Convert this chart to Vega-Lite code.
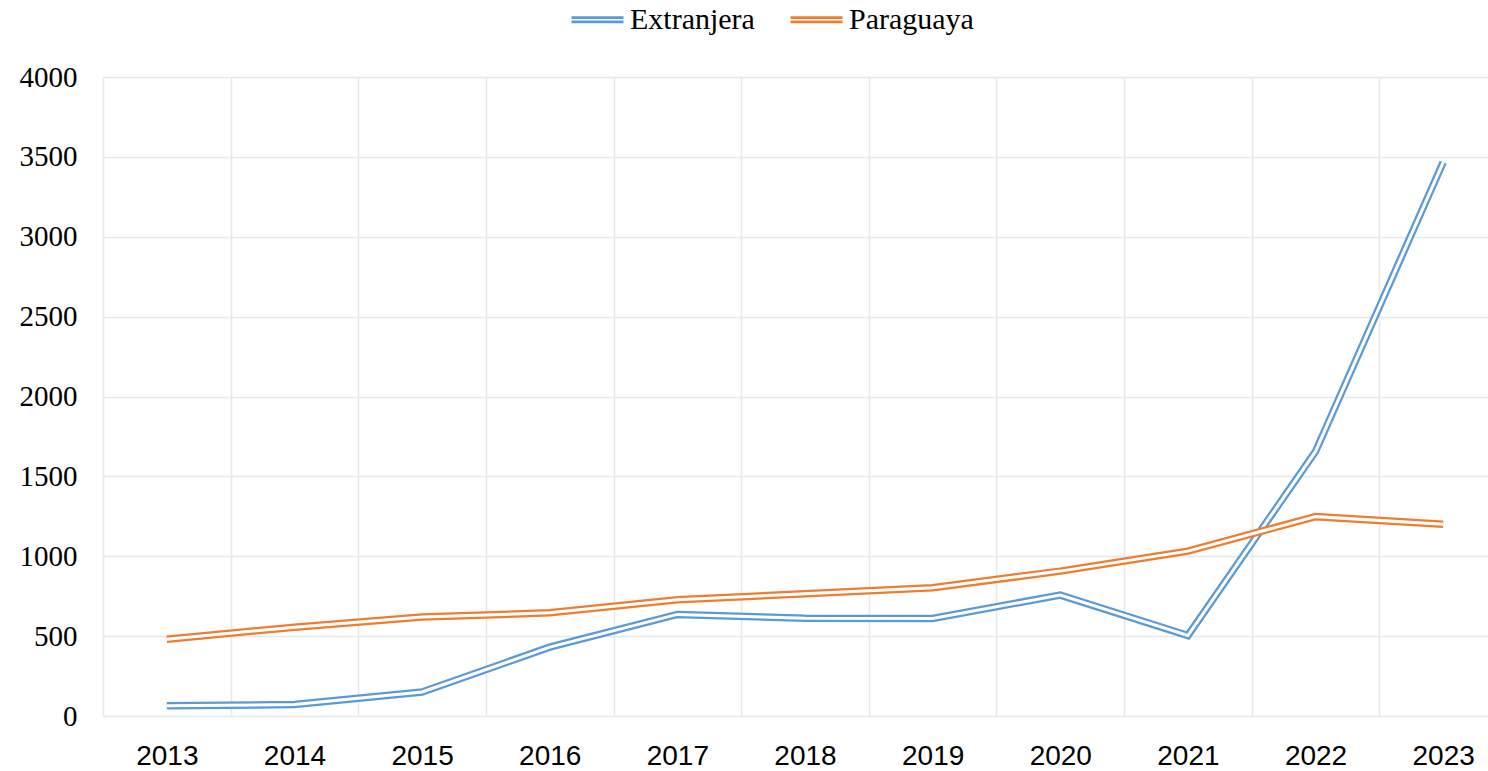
{
  "$schema": "https://vega.github.io/schema/vega-lite/v6.json",
  "width": 1385,
  "height": 639,
  "autosize": {"type": "none"},
  "padding": {"left": 103, "top": 77, "right": 0, "bottom": 55},
  "background": "white",
  "config": {"view": {"stroke": null}},
  "data": {
    "values": [
      {"year": "2013", "serie": "Extranjera", "value": 64},
      {"year": "2014", "serie": "Extranjera", "value": 72},
      {"year": "2015", "serie": "Extranjera", "value": 150},
      {"year": "2016", "serie": "Extranjera", "value": 431},
      {"year": "2017", "serie": "Extranjera", "value": 636},
      {"year": "2018", "serie": "Extranjera", "value": 612},
      {"year": "2019", "serie": "Extranjera", "value": 611},
      {"year": "2020", "serie": "Extranjera", "value": 757},
      {"year": "2021", "serie": "Extranjera", "value": 504},
      {"year": "2022", "serie": "Extranjera", "value": 1656},
      {"year": "2023", "serie": "Extranjera", "value": 3466},
      {"year": "2013", "serie": "Paraguaya", "value": 481},
      {"year": "2014", "serie": "Paraguaya", "value": 556},
      {"year": "2015", "serie": "Paraguaya", "value": 619},
      {"year": "2016", "serie": "Paraguaya", "value": 646},
      {"year": "2017", "serie": "Paraguaya", "value": 727},
      {"year": "2018", "serie": "Paraguaya", "value": 766},
      {"year": "2019", "serie": "Paraguaya", "value": 803},
      {"year": "2020", "serie": "Paraguaya", "value": 907},
      {"year": "2021", "serie": "Paraguaya", "value": 1032},
      {"year": "2022", "serie": "Paraguaya", "value": 1248},
      {"year": "2023", "serie": "Paraguaya", "value": 1201}
    ]
  },
  "encoding": {
    "x": {
      "field": "year",
      "type": "ordinal",
      "scale": {"type": "band", "paddingInner": 0, "paddingOuter": 0, "range": [0, 1404]},
      "axis": {
        "title": null,
        "tickBand": "extent",
        "ticks": false,
        "domain": false,
        "grid": true,
        "gridColor": "#E8E8E8",
        "gridWidth": 1.5,
        "labelAngle": 0,
        "labelFont": "Liberation Sans",
        "labelFontSize": 28,
        "labelColor": "#000000",
        "labelPadding": 26
      }
    },
    "y": {
      "field": "value",
      "type": "quantitative",
      "scale": {"domain": [0, 4000], "nice": false},
      "axis": {
        "title": null,
        "format": "d",
        "values": [0, 500, 1000, 1500, 2000, 2500, 3000, 3500, 4000],
        "ticks": false,
        "domain": false,
        "grid": true,
        "gridColor": "#E8E8E8",
        "gridWidth": 1.5,
        "labelFont": "Liberation Serif",
        "labelFontSize": 29,
        "labelColor": "#000000",
        "labelPadding": 26
      }
    }
  },
  "layer": [
    {
      "transform": [{"filter": "datum.serie === 'Extranjera'"}],
      "mark": {"type": "line", "strokeWidth": 7.5},
      "encoding": {
        "stroke": {
          "field": "serie",
          "type": "nominal",
          "scale": {"domain": ["Extranjera", "Paraguaya"], "range": ["#5B9BD5", "#ED7D31"]},
          "legend": {
            "title": null,
            "orient": "none",
            "direction": "horizontal",
            "legendX": 467,
            "legendY": -85,
            "symbolType": "M-1,-0.08H1M-1,0.08H1",
            "symbolSize": 2704,
            "symbolStrokeWidth": 2.6,
            "symbolFillColor": "transparent",
            "labelFont": "Liberation Serif",
            "labelFontSize": 30,
            "labelColor": "#000000",
            "labelOffset": 5,
            "columnPadding": 30
          }
        }
      }
    },
    {
      "transform": [{"filter": "datum.serie === 'Extranjera'"}],
      "mark": {"type": "line", "strokeWidth": 3, "color": "white"},
      "encoding": {}
    },
    {
      "transform": [{"filter": "datum.serie === 'Paraguaya'"}],
      "mark": {"type": "line", "strokeWidth": 7.5},
      "encoding": {
        "stroke": {"field": "serie", "type": "nominal"}
      }
    },
    {
      "transform": [{"filter": "datum.serie === 'Paraguaya'"}],
      "mark": {"type": "line", "strokeWidth": 3, "color": "white"},
      "encoding": {}
    }
  ]
}
